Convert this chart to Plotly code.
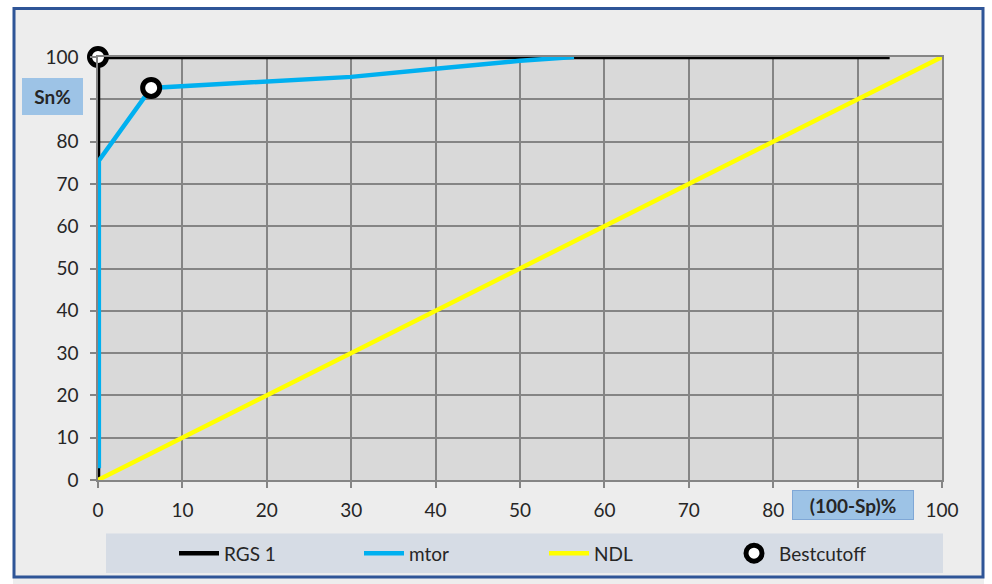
import plotly.graph_objects as go

# ---- data ----
rgs1_x = [0, 0, 93.8]
rgs1_y = [0, 100, 100]

mtor_x = [0.1, 0.1, 6.3, 20, 30, 40, 50, 56.4]
mtor_y = [2.8, 75.5, 92.7, 94.1, 95.3, 97.2, 99.1, 100]

ndl_x = [0, 100]
ndl_y = [0, 100]

best_x = [0, 6.3]
best_y = [100, 92.7]

tick_vals = [0, 10, 20, 30, 40, 50, 60, 70, 80, 90, 100]
# the 90 labels are hidden behind the axis-title boxes in the reference
tick_text = ["0", "10", "20", "30", "40", "50", "60", "70", "80", "", "100"]

# ---- geometry helpers (pixel -> paper) ----
W, H = 992, 584
L, R, T, B = 98, 50, 57, 100
PW, PH = W - L - R, H - T - B


def px(xp):
    return (xp - L) / PW


def py(yp):
    return (H - B - yp) / PH


FONT = "Lato"

fig = go.Figure()
fig.add_trace(go.Scatter(x=rgs1_x, y=rgs1_y, mode="lines", name="RGS 1", cliponaxis=False,
                         line=dict(color="#000000", width=4.5)))
fig.add_trace(go.Scatter(x=mtor_x, y=mtor_y, mode="lines", name="mtor", cliponaxis=False,
                         line=dict(color="#00B0F0", width=4.5)))
fig.add_trace(go.Scatter(x=ndl_x, y=ndl_y, mode="lines", name="NDL", cliponaxis=False,
                         line=dict(color="#FFFF00", width=4.5)))
fig.add_trace(go.Scatter(x=best_x, y=best_y, mode="markers", name="Bestcutoff", cliponaxis=False,
                         marker=dict(symbol="circle", size=17, color="#FFFFFF",
                                     line=dict(color="#000000", width=5))))

shapes = []
# white outer margin strips
shapes += [
    dict(type="rect", xref="paper", yref="paper", x0=px(-5), x1=px(13), y0=py(-5), y1=py(H + 5),
         fillcolor="white", line_width=0, layer="below"),
    dict(type="rect", xref="paper", yref="paper", x0=px(984), x1=px(W + 5), y0=py(-5), y1=py(H + 5),
         fillcolor="white", line_width=0, layer="below"),
    dict(type="rect", xref="paper", yref="paper", x0=px(-5), x1=px(W + 5), y0=py(-5), y1=py(7),
         fillcolor="white", line_width=0, layer="below"),
]
# outer frame
shapes.append(dict(type="rect", xref="paper", yref="paper", x0=px(14), x1=px(983), y0=py(8), y1=py(582),
                   line=dict(color="#2F5597", width=3), fillcolor="rgba(0,0,0,0)", layer="below"))
# legend background
shapes.append(dict(type="rect", xref="paper", yref="paper", x0=px(106), x1=px(943), y0=py(538), y1=py(578),
                   fillcolor="#D6DCE5", line_width=0, layer="below"))

annotations = [
    dict(text="<b>Sn%</b>", xref="paper", yref="paper", x=px(52.5), y=py(96.5),
         showarrow=False, font=dict(family=FONT, size=19, color="#262626"),
         bgcolor="#9DC3E6", bordercolor="#9DC3E6", borderpad=0, width=59, height=35,
         xanchor="center", yanchor="middle"),
    dict(text="<b>(100-Sp)%</b>", xref="paper", yref="paper", x=px(853), y=py(509),
         showarrow=False, font=dict(family=FONT, size=19, color="#262626"),
         bgcolor="#9DC3E6", bordercolor="#7FA7D6", borderwidth=1, borderpad=0, width=120, height=28,
         xanchor="center", yanchor="middle"),
]

axis_common = dict(
    range=[0, 100], tickvals=tick_vals, ticktext=tick_text,
    showgrid=True, gridcolor="#858585", gridwidth=1.5,
    ticks="outside", ticklen=6, tickcolor="#858585", tickwidth=1.5,
    showline=True, linecolor="#858585", linewidth=1.5, mirror=True,
    zeroline=False, tickfont=dict(family=FONT, size=19, color="#262626"),
    fixedrange=True,
)

fig.update_layout(
    width=W, height=H,
    margin=dict(l=L, r=R, t=T, b=B),
    paper_bgcolor="#EDEDED",
    plot_bgcolor="#D9D9D9",
    xaxis=dict(**axis_common, ticklabelstandoff=6),
    yaxis=dict(**axis_common, ticklabelstandoff=8),
    shapes=shapes,
    annotations=annotations,
    showlegend=True,
    legend=dict(orientation="h", x=px(174), y=py(558), xanchor="left", yanchor="middle",
                bgcolor="rgba(0,0,0,0)", entrywidth=130, entrywidthmode="pixels",
                font=dict(family=FONT, size=19, color="#262626"), itemwidth=40,
                traceorder="normal"),
)

fig.write_html("out.html", config={"displayModeBar": False},
               post_script="document.body.style.margin='0';document.body.style.overflow='hidden';")
